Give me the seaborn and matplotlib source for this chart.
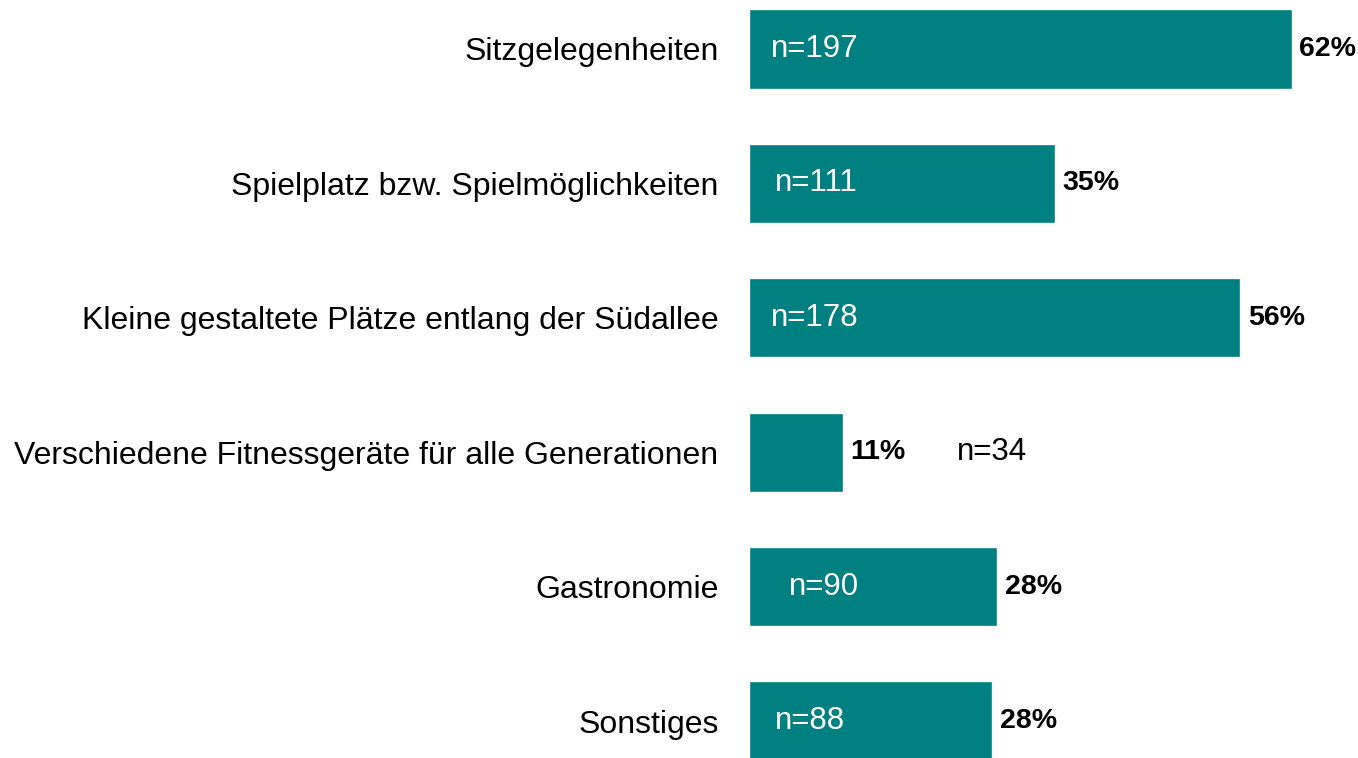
import matplotlib
matplotlib.use("Agg")
import matplotlib.pyplot as plt
from matplotlib import font_manager
import seaborn as sns
import pandas as pd

categories = [
    "Sitzgelegenheiten",
    "Spielplatz bzw. Spielmöglichkeiten",
    "Kleine gestaltete Plätze entlang der Südallee",
    "Verschiedene Fitnessgeräte für alle Generationen",
    "Gastronomie",
    "Sonstiges",
]
percent = [62.1, 35.0, 56.2, 10.7, 28.4, 27.8]
counts = [197, 111, 178, 34, 90, 88]

# layout of the n-labels (offset in px from bar start, inside flag)
n_offsets_px = [22, 26, 22, 208, 40, 26]
n_inside = [True, True, True, False, True, True]

sns.set_theme(style="white")
plt.rcParams["font.family"] = ["Liberation Sans", "DejaVu Sans"]

installed = {f.name for f in font_manager.fontManager.ttflist}
if "Liberation Sans Narrow" in installed:
    pct_family, pct_size = ["Liberation Sans Narrow", "Liberation Sans"], 23.5
else:
    pct_family, pct_size = ["Liberation Sans", "DejaVu Sans"], 20.5

df = pd.DataFrame({"cat": categories, "pct": percent, "n": counts})

W, H = 1358, 758
fig = plt.figure(figsize=(W / 100, H / 100), dpi=100)
ax = fig.add_axes([749 / W, 0, (W - 749) / W, 1])

sns.barplot(data=df, y="cat", x="pct", orient="h", color="#008080",
            saturation=1, width=0.588, ax=ax)

px_per_pct = 8.74
ax.set_xlim(0, (W - 749) / px_per_pct)
ax.set_ylim(5 + (758 - 721) / 134.4, -49 / 134.4)
ax.set_xlabel("")
ax.set_ylabel("")
ax.set_xticks([])
for s in ax.spines.values():
    s.set_visible(False)
ax.tick_params(axis="y", length=0, pad=22.0, labelsize=23, labelcolor="black")

for i, (p, n) in enumerate(zip(percent, counts)):
    ax.annotate(f"{round(p)}%", xy=(p, i), xytext=(5.5, 0), textcoords="offset points",
                ha="left", va="center", fontsize=pct_size, fontweight="bold",
                color="black", family=pct_family)
    ax.annotate(f"n={n}", xy=(0, i), xytext=(n_offsets_px[i] * 0.72, 0),
                textcoords="offset points", ha="left", va="center", fontsize=22.5,
                color="white" if n_inside[i] else "black")

fig.savefig("out.png", dpi=100)
